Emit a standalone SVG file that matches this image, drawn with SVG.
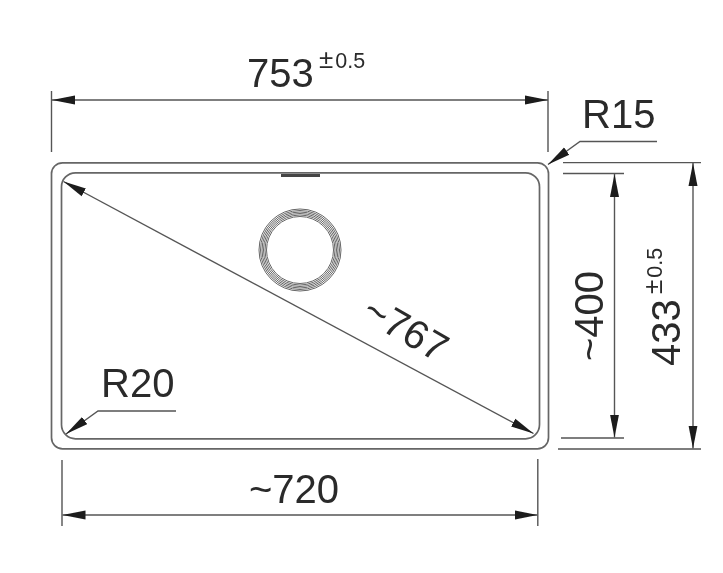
<svg xmlns="http://www.w3.org/2000/svg" width="723" height="573" viewBox="0 0 723 573">
<style>
text{font-family:"Liberation Sans",Arial,sans-serif;fill:#2a2a2a}
.big{font-size:40px}
.sup{font-size:21.5px}
.pm{font-size:26px}
.l{fill:none;stroke:#555;stroke-width:1.4}
.b{fill:none;stroke:#666;stroke-width:1.7}
.r{fill:none;stroke:#666;stroke-width:1}
.soft{filter:url(#s)}
</style>
<defs>
<filter id="s" x="0" y="0" width="723" height="573" filterUnits="userSpaceOnUse"><feGaussianBlur stdDeviation="0.4"/></filter>
<marker id="a" markerUnits="userSpaceOnUse" markerWidth="24" markerHeight="11" refX="23" refY="5.5" orient="auto-start-reverse"><path d="M0 1 L23 5.5 L0 10 Z" fill="#1c1c1c"/></marker>
</defs>
<rect width="723" height="573" fill="#fff"/>
<g class="soft">
<g id="sink">
<rect class="b" x="51.5" y="162.8" width="497" height="286" rx="11"/>
<rect class="b" x="61.5" y="172.8" width="478" height="266" rx="14"/>
<path d="M281 175.5H320" stroke="#444" stroke-width="3" fill="none"/>
</g>
<g id="drain">
<circle class="r" cx="300" cy="250" r="33.5"/><circle class="r" cx="300" cy="250" r="35"/><circle class="r" cx="300" cy="250" r="36.5"/><circle class="r" cx="300" cy="250" r="38"/><circle class="r" cx="300" cy="250" r="39.5"/><circle class="r" cx="300" cy="250" r="41"/>
</g>
<g id="connectors">
<path class="l" d="M51.5 91V152M548 91V152M62 460V526M537.8 459V526"/>
<path class="l" d="M563 162.6H701M563 173.5H624M561 438H624M558 449H701"/>
<path class="l" d="M52 100H548" marker-start="url(#a)" marker-end="url(#a)"/>
<path class="l" d="M62.5 515H537.5" marker-start="url(#a)" marker-end="url(#a)"/>
<path class="l" d="M614.5 174V437.5" marker-start="url(#a)" marker-end="url(#a)"/>
<path class="l" d="M693 163V448.5" marker-start="url(#a)" marker-end="url(#a)"/>
<path class="l" d="M63.5 181.5L533.5 433.5" marker-start="url(#a)" marker-end="url(#a)"/>
<path class="l" d="M657 141.5H580L548 164.5" marker-end="url(#a)"/>
<path class="l" d="M176 411H98L66 434" marker-end="url(#a)"/>
</g>
<g id="labels">
<text class="big" x="247" y="87">753</text>
<text class="sup" x="319" y="68"><tspan class="pm">±</tspan><tspan dx="2">0.5</tspan></text>
<text class="big" x="582" y="128">R15</text>
<text class="big" x="101" y="397">R20</text>
<text class="big" x="249" y="503">~720</text>
<text class="big" transform="translate(360 318) rotate(30)">~767</text>
<text class="big" transform="translate(603 361) rotate(-90)">~400</text>
<text class="big" transform="translate(680 366) rotate(-90)">433</text>
<text class="sup" transform="translate(662 294) rotate(-90)"><tspan class="pm">±</tspan><tspan dx="2">0.5</tspan></text>
</g>
</g>
</svg>
